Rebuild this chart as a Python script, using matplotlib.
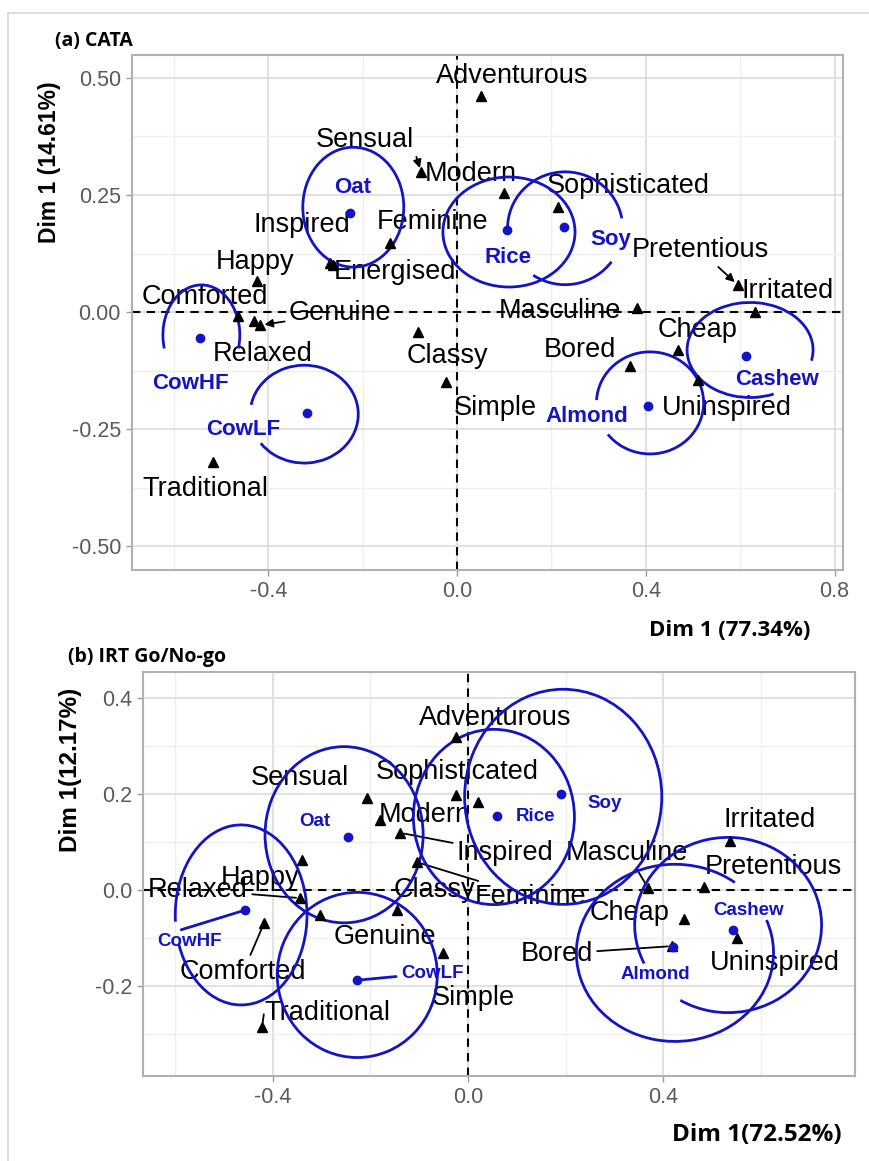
import matplotlib
matplotlib.use("Agg")
import matplotlib.pyplot as plt
from matplotlib.patches import Arc
from matplotlib.lines import Line2D

plt.rcParams["font.family"] = ["Liberation Sans", "DejaVu Sans"]

BLUE = "#1414c4"
TICK_GREY = "#5a5a5a"

# ---------------- (a) CATA ----------------
a_terms = ["Adventurous", "Sensual", "Modern", "Sophisticated", "Feminine", "Inspired",
           "Energised", "Happy", "Comforted", "Genuine", "Relaxed", "Classy", "Simple",
           "Traditional", "Masculine", "Pretentious", "Irritated", "Cheap", "Bored",
           "Uninspired"]
a_term_x = [0.051, -0.076, 0.100, 0.214, -0.142, -0.269, -0.262, -0.424, -0.464, -0.417,
            -0.430, -0.083, -0.023, -0.517, 0.381, 0.595, 0.631, 0.468, 0.367, 0.511]
a_term_y = [0.462, 0.299, 0.254, 0.224, 0.147, 0.105, 0.100, 0.066, -0.009, -0.028,
            -0.020, -0.043, -0.150, -0.320, 0.009, 0.058, 0.000, -0.081, -0.115, -0.145]
a_lab_x = [0.117, -0.195, 0.030, 0.362, -0.053, -0.330, -0.131, -0.428, -0.534, -0.248,
           -0.413, -0.020, 0.080, -0.534, 0.218, 0.515, 0.700, 0.510, 0.261, 0.572]
a_lab_y = [0.504, 0.368, 0.295, 0.270, 0.192, 0.186, 0.085, 0.107, 0.032, -0.002,
           -0.090, -0.094, -0.205, -0.378, 0.002, 0.132, 0.045, -0.038, -0.081, -0.205]
a_linked = ["Sensual", "Genuine", "Pretentious"]

a_prods = ["Oat", "Rice", "Soy", "CowHF", "CowLF", "Almond", "Cashew"]
a_prod_x = [-0.227, 0.106, 0.227, -0.544, -0.318, 0.405, 0.612]
a_prod_y = [0.212, 0.175, 0.182, -0.056, -0.216, -0.200, -0.094]
a_plab_x = [-0.222, 0.108, 0.326, -0.566, -0.453, 0.275, 0.678]
a_plab_y = [0.267, 0.117, 0.156, -0.152, -0.250, -0.222, -0.145]
a_plinked = []
# confidence ellipses: centre, width, height, drawn arcs (deg)
a_ell_x = [-0.220, 0.110, 0.229, -0.542, -0.324, 0.409, 0.621]
a_ell_y = [0.224, 0.171, 0.179, -0.049, -0.218, -0.194, -0.081]
a_ell_w = [0.214, 0.280, 0.244, 0.163, 0.229, 0.227, 0.267]
a_ell_h = [0.256, 0.235, 0.241, 0.214, 0.209, 0.218, 0.203]
a_ell_arcs = [[(0, 360)], [(0, 360)], [(10, 180), (-124, -36)], [(-20, 200)],
              [(-146, 170)], [(-143, 177)], [(-10, 298)]]

# ---------------- (b) IRT Go/No-go ----------------
b_terms = ["Adventurous", "Sensual", "Sophisticated", "Energised", "Modern", "Inspired",
           "Feminine", "Classy", "Happy", "Relaxed", "Genuine", "Comforted", "Traditional",
           "Simple", "Masculine", "Pretentious", "Irritated", "Cheap", "Bored", "Uninspired"]
b_term_x = [-0.025, -0.207, -0.025, 0.020, -0.180, -0.139, -0.105, -0.146, -0.340, -0.344,
            -0.303, -0.418, -0.422, -0.051, 0.369, 0.484, 0.537, 0.443, 0.418, 0.551]
b_term_y = [0.319, 0.192, 0.198, 0.183, 0.146, 0.119, 0.058, -0.042, 0.063, -0.017,
            -0.052, -0.069, -0.285, -0.131, 0.004, 0.006, 0.102, -0.060, -0.117, -0.100]
b_lab_x = [0.055, -0.344, -0.023, None, -0.088, 0.076, 0.129, -0.068, -0.426, -0.553,
           -0.170, -0.461, -0.289, 0.010, 0.326, 0.625, 0.619, 0.330, 0.182, 0.629]
b_lab_y = [0.358, 0.233, 0.246, None, 0.156, 0.077, -0.015, 0.000, 0.025, 0.000,
           -0.098, -0.171, -0.256, -0.225, 0.077, 0.048, 0.146, -0.048, -0.133, -0.152]
b_linked = ["Inspired", "Feminine", "Relaxed", "Comforted", "Traditional", "Masculine", "Bored"]

b_prods = ["Oat", "Rice", "Soy", "CowHF", "CowLF", "Almond", "Cashew"]
b_prod_x = [-0.246, 0.059, 0.190, -0.457, -0.227, 0.420, 0.543]
b_prod_y = [0.110, 0.154, 0.200, -0.042, -0.188, -0.119, -0.083]
b_plab_x = [-0.314, 0.139, 0.279, -0.570, -0.072, 0.383, 0.574]
b_plab_y = [0.142, 0.152, 0.181, -0.108, -0.173, -0.177, -0.042]
b_plinked = ["CowHF", "CowLF"]
b_ell_x = [-0.254, 0.053, 0.195, -0.465, -0.227, 0.424, 0.533]
b_ell_y = [0.115, 0.152, 0.194, -0.052, -0.177, -0.131, -0.073]
b_ell_w = [0.324, 0.330, 0.404, 0.270, 0.328, 0.404, 0.383]
b_ell_h = [0.367, 0.365, 0.448, 0.375, 0.344, 0.369, 0.365]
b_ell_arcs = [[(0, 360)], [(0, 360)], [(0, 360)], [(206, 546)], [(0, 360)],
              [(50, 380)], [(238, 565)]]

# where on a label box its connector leaves (default: nearest edge from centre)
LINK_FROM = {"Sensual": (1.0, 0.1), "Traditional": (0.0, 0.5), "CowHF": (0.1, 0.9)}


def draw_panel(ax, terms, tx, ty, lx, ly, linked, link_style,
               prods, px, py, plx, ply, plinked,
               ex, ey, ew, eh, earcs, term_fs, prod_fs):
    ax.axhline(0, color="black", lw=1.5, ls=(0, (4, 3)), zorder=2)
    ax.axvline(0, color="black", lw=1.5, ls=(0, (4, 3)), zorder=2)

    for cx, cy, w, h, arcs in zip(ex, ey, ew, eh, earcs):
        for t1, t2 in arcs:
            ax.add_patch(Arc((cx, cy), w, h, theta1=t1, theta2=t2,
                             color=BLUE, lw=2.0, zorder=4))

    ax.plot(tx, ty, "^", color="black", ms=7.5, zorder=5, ls="none")
    for name, x, y, tlx, tly in zip(terms, tx, ty, lx, ly):
        if tlx is None:
            continue
        if name in linked:
            ax.annotate(name, xy=(x, y), xytext=(tlx, tly), ha="center", va="center",
                        fontsize=term_fs, zorder=3,
                        arrowprops=dict(arrowstyle=link_style, color="black", lw=1.3,
                                        shrinkA=1, shrinkB=3, mutation_scale=12,
                                        relpos=LINK_FROM.get(name, (0.5, 0.5))))
        else:
            ax.text(tlx, tly, name, ha="center", va="center", fontsize=term_fs, zorder=3)

    ax.plot(px, py, "o", color=BLUE, ms=6, zorder=6, ls="none")
    for name, x, y, tlx, tly in zip(prods, px, py, plx, ply):
        if name in plinked:
            ax.annotate(name, xy=(x, y), xytext=(tlx, tly), ha="center", va="center",
                        fontsize=prod_fs, color=BLUE, fontweight="bold", zorder=6,
                        arrowprops=dict(arrowstyle="-", color=BLUE, lw=2.0,
                                        shrinkA=2, shrinkB=0,
                                        relpos=LINK_FROM.get(name, (0.5, 0.5))))
        else:
            ax.text(tlx, tly, name, ha="center", va="center", fontsize=prod_fs,
                    color=BLUE, fontweight="bold", zorder=6)


def style_axes(ax, xlim, ylim, xt, xtl, yt, ytl, xminor, yminor):
    ax.set_xlim(*xlim)
    ax.set_ylim(*ylim)
    ax.set_xticks(xt)
    ax.set_xticklabels(xtl)
    ax.set_yticks(yt)
    ax.set_yticklabels(ytl)
    ax.set_xticks(xminor, minor=True)
    ax.set_yticks(yminor, minor=True)
    ax.grid(which="major", color="#dcdcdc", lw=1.2, zorder=0)
    ax.grid(which="minor", color="#eeeeee", lw=0.9, zorder=0)
    ax.set_axisbelow(True)
    ax.tick_params(which="major", length=4, width=1, color="#9a9a9a",
                   labelsize=15.5, labelcolor=TICK_GREY, pad=4)
    ax.tick_params(which="minor", length=0)
    for s in ax.spines.values():
        s.set_color("#b0b0b0")
        s.set_linewidth(1.5)


fig = plt.figure(figsize=(8.69, 11.61), dpi=100)

# outer light frame
fig.add_artist(Line2D([8 / 869, 1.0], [1 - 13 / 1161] * 2, color="#d8d8d8", lw=1.2))
fig.add_artist(Line2D([8 / 869] * 2, [0.0, 1 - 13 / 1161], color="#d8d8d8", lw=1.2))

ax1 = fig.add_axes([0.1519, 0.509, 0.8182, 0.4436])
style_axes(ax1, (-0.689, 0.818), (-0.551, 0.549),
           [-0.4, 0.0, 0.4, 0.8], ["-0.4", "0.0", "0.4", "0.8"],
           [-0.5, -0.25, 0.0, 0.25, 0.5], ["-0.50", "-0.25", "0.00", "0.25", "0.50"],
           [-0.6, -0.2, 0.2, 0.6], [-0.375, -0.125, 0.125, 0.375])
draw_panel(ax1, a_terms, a_term_x, a_term_y, a_lab_x, a_lab_y, a_linked, "-|>",
           a_prods, a_prod_x, a_prod_y, a_plab_x, a_plab_y, a_plinked,
           a_ell_x, a_ell_y, a_ell_w, a_ell_h, a_ell_arcs, 19.5, 16)

ax2 = fig.add_axes([0.1646, 0.0732, 0.8193, 0.348])
style_axes(ax2, (-0.666, 0.793), (-0.3875, 0.454),
           [-0.4, 0.0, 0.4], ["-0.4", "0.0", "0.4"],
           [-0.2, 0.0, 0.2, 0.4], ["-0.2", "0.0", "0.2", "0.4"],
           [-0.6, -0.2, 0.2, 0.6], [-0.3, -0.1, 0.1, 0.3])
draw_panel(ax2, b_terms, b_term_x, b_term_y, b_lab_x, b_lab_y, b_linked, "-",
           b_prods, b_prod_x, b_prod_y, b_plab_x, b_plab_y, b_plinked,
           b_ell_x, b_ell_y, b_ell_w, b_ell_h, b_ell_arcs, 19.5, 13.5)

# titles and axis labels
fig.text(55 / 869, 1 - 41 / 1161, "(a) CATA", family="Open Sans", fontweight="bold",
         fontsize=14, ha="left", va="center")
fig.text(68 / 869, 1 - 657 / 1161, "(b) IRT Go/No-go", family="Open Sans",
         fontweight="bold", fontsize=14, ha="left", va="center")
fig.text(810 / 869, 1 - 630 / 1161, "Dim 1 (77.34%)", family="Open Sans",
         fontweight="bold", fontsize=16, ha="right", va="center")
fig.text(842 / 869, 1 - 1135 / 1161, "Dim 1(72.52%)", family="Open Sans",
         fontweight="bold", fontsize=17.5, ha="right", va="center")
fig.text(50 / 869, 1 - 162 / 1161, "Dim 1 (14.61%)", fontweight="bold", fontsize=16.5,
         rotation=90, ha="center", va="center")
fig.text(70 / 869, 1 - 770 / 1161, "Dim 1(12.17%)", fontweight="bold", fontsize=17.5,
         rotation=90, ha="center", va="center")

fig.savefig("out.png", dpi=100)
